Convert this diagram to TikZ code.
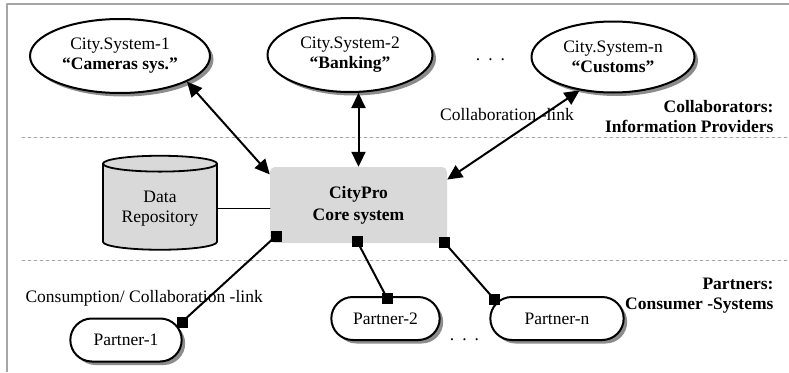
\documentclass[tikz,border=0pt]{standalone}
\usepackage{fontspec}
\setmainfont{Liberation Serif}
\usetikzlibrary{arrows.meta, calc, shapes.geometric, shapes.misc, shadows}

\newcommand{\widedots}{.\kern8pt.\kern8pt.}

\begin{document}
\begin{tikzpicture}[x=1pt, y=-1pt, line cap=round, line join=round,
    font=\fontsize{17.5}{20}\selectfont,
    system/.style={ellipse, draw, line width=2pt, fill=white, align=center, inner sep=0pt, minimum height=74pt,
        drop shadow={shadow xshift=3.5pt, shadow yshift=-3.5pt, fill=gray!90, opacity=1}},
    partner/.style={rounded rectangle, draw, line width=2pt, fill=white, minimum height=43pt,
        drop shadow={shadow xshift=3.5pt, shadow yshift=-3.5pt, fill=gray!90, opacity=1}},
    core/.style={rectangle, rounded corners=5pt, fill=gray!30, minimum width=177pt, minimum height=76pt, align=center, font=\fontsize{17.5}{22}\selectfont\bfseries},
    store/.style={cylinder, shape border rotate=90, aspect=0.19, draw, line width=1.8pt, fill=gray!30, minimum width=114pt, minimum height=94pt, align=center},
    port/.style={rectangle, fill=black, inner sep=0pt, minimum size=11pt},
    link/.style={line width=2pt, {Triangle[length=15pt,width=14pt]}-{Triangle[length=15pt,width=14pt]}},
    layer/.style={gray!70, dashed, line width=0.6pt},
    tier/.style={font=\fontsize{17.5}{20}\selectfont\bfseries, align=right, anchor=east}]
    \useasboundingbox (0,0) rectangle (789,372);

    % frame and layers
    \draw[gray!70, line width=2pt, line cap=butt] (7,372) -- (7,4) -- (789,4);
    \draw[layer] (22,137) -- (789,137);
    \draw[layer] (22,260) -- (789,260);

    % collaborators
    \node[system, minimum width=180pt] (cs1) at (120,56) {City.System-1\\\textbf{“Cameras sys.”}};
    \node[system, minimum width=165pt] (cs2) at (350,55) {City.System-2\\\textbf{“Banking”}};
    \node[system, minimum width=163pt, minimum height=71pt] (csn) at (613,57) {City.System-n\\\textbf{“Customs”}};
    \node (dots1) at (490.5,60) {\widedots};

    \node (llabel) at (507,115) {Collaboration -link};
    \node[tier] (collab) at (777,117) {Collaborators:\\Information Providers};

    % core
    \node[core] (core) at (358.5,205) {CityPro\\Core system};
    \node[store] (repo) at (160,208.5) {Data\\Repository};
    \draw[line width=1.4pt] (repo.east) -- (repo.east -| core.west);

    \draw[link] (cs1.-21) -- (core.161);
    \draw[link] (core.north |- cs2.south) -- (core.north);
    \draw[link] (csn.-135) -- (core.16);

    % partners
    \node[partner, minimum width=118pt] (p1) at (126,340) {Partner-1};
    \node[partner, minimum width=115pt] (p2) at (385.5,318.5) {Partner-2};
    \node[partner, minimum width=140pt] (pn) at (557,318.5) {Partner-n};
    \node (dots2) at (464.5,340) {\widedots};

    \node[anchor=west] (clabel) at (22,298) {Consumption/ Collaboration -link};
    \node[tier] (consum) at (777,296) {Partners:\\Consumer -Systems};

    \node[port] (c1) at (276,236) {};
    \node[port] (s1) at (182,322) {};
    \node[port] (c2) at (357,241) {};
    \node[port] (s2) at (387,298) {};
    \node[port] (c3) at (444,242) {};
    \node[port] (s3) at (494,299) {};

    \foreach \source/\target in {c1/s1, c2/s2, c3/s3} {
        \draw[line width=2pt] (\source.center) -- (\target.center);
    }
\end{tikzpicture}
\end{document}
